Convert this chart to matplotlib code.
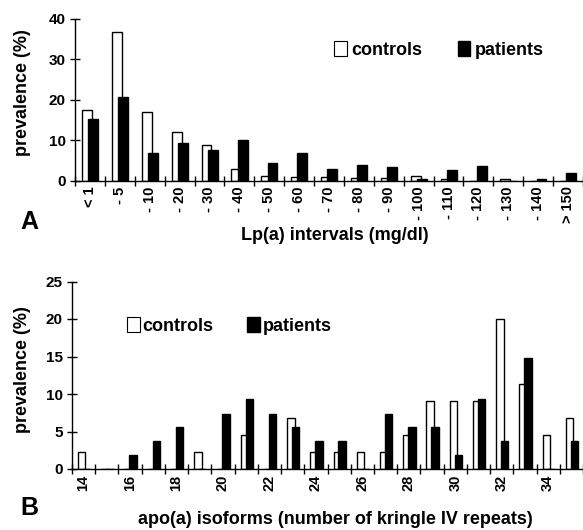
import matplotlib
matplotlib.use('Agg')
import matplotlib.pyplot as plt
import numpy as np
from matplotlib.patches import Patch

plt.rcParams['font.family'] = ['Liberation Sans', 'DejaVu Sans']
plt.rcParams['font.weight'] = 'bold'

# Panel A: Lp(a) intervals
lp_labels = ['< 1', '- 5', '- 10', '- 20', '- 30', '- 40', '- 50', '- 60', '- 70',
             '- 80', '- 90', '- 100', '- 110', '- 120', '- 130', '- 140', '> 150']
lp_controls = [17.6, 36.9, 16.9, 12.1, 8.9, 3.0, 1.2, 0.8, 1.0, 0.6, 0.6, 1.1, 0.5, 0, 0.5, 0, 0]
lp_patients = [15.3, 20.7, 6.8, 9.3, 7.7, 10.0, 4.5, 6.8, 2.8, 4.0, 3.3, 0.4, 2.7, 3.7, 0, 0.4, 1.8]

# Panel B: apo(a) isoforms
kiv = list(range(14, 36))
iso_controls = [2.3, 0, 0, 0, 0, 2.3, 0, 4.5, 0, 6.8, 2.3, 2.3, 2.3, 2.3, 4.5, 9.1, 9.1, 9.1,
                20.0, 11.4, 4.5, 6.8]
iso_patients = [0, 0, 1.9, 3.7, 5.6, 0, 7.4, 9.3, 7.4, 5.6, 3.7, 3.7, 0, 7.4, 5.6, 5.6, 1.9, 9.3,
                3.7, 14.8, 0, 3.7]

W, H = 583, 530
fig = plt.figure(figsize=(W / 100, H / 100), dpi=100, facecolor='white')

LABEL_FS = 13
TICK_FS = 11


def style_axes(ax, n):
    for s in ['top', 'right']:
        ax.spines[s].set_visible(False)
    ax.spines['left'].set_linewidth(1.0)
    ax.spines['bottom'].set_linewidth(1.0)
    ax.set_xticks(np.arange(n + 1))
    ax.set_xticklabels([])
    ax.tick_params(axis='x', which='major', direction='inout', length=7, width=1)
    ax.tick_params(axis='x', which='minor', length=0, labelsize=TICK_FS - 0.5, pad=4)
    ax.tick_params(axis='y', direction='inout', length=7, width=1, labelsize=TICK_FS, pad=3)
    for t in ax.get_yticklabels():
        t.set_fontweight('bold')


handles = [Patch(facecolor='white', edgecolor='black', linewidth=0.8),
           Patch(facecolor='black', edgecolor='black')]

# ---- Panel A ----
axA = fig.add_axes([75 / W, 1 - 180.7 / H, (W - 75) / W, (180.7 - 19) / H])
xa = np.arange(len(lp_labels))
axA.bar(xa + 0.40, lp_controls, width=0.33, facecolor='white', edgecolor='black', linewidth=1.0)
axA.bar(xa + 0.61, lp_patients, width=0.33, facecolor='black', edgecolor='black', linewidth=1.0)
axA.set_xlim(0, (W - 75) / 30.4)
axA.set_ylim(0, 40)
axA.set_yticks([0, 10, 20, 30, 40])
style_axes(axA, len(lp_labels))
axA.set_xticks(xa + 0.5, minor=True)
axA.set_xticklabels(lp_labels, minor=True, rotation=90, fontweight='bold', va='top')
fig.text(23 / W, 1 - 93 / H, 'prevalence (%)', rotation=90, ha='center', va='center',
         fontsize=LABEL_FS, fontweight='bold')
fig.text(335 / W, 1 - 236 / H, 'Lp(a) intervals (mg/dl)', ha='center', va='center',
         fontsize=LABEL_FS, fontweight='bold')
fig.text(20 / W, 1 - 222 / H, 'A', ha='left', va='center', fontsize=18, fontweight='bold')
fig.legend(handles, ['controls', 'patients'], loc='center left',
           bbox_to_anchor=(318 / W, 1 - 50 / H), ncol=2, frameon=False,
           handlelength=0.7, handleheight=0.85, handletextpad=0.25, columnspacing=1.95,
           prop={'size': LABEL_FS, 'weight': 'bold'})

# ---- Panel B ----
axB = fig.add_axes([72 / W, 1 - 469 / H, (W - 72) / W, (469 - 281.5) / H])
xb = np.arange(len(kiv))
axB.bar(xb + 0.42, iso_controls, width=0.32, facecolor='white', edgecolor='black', linewidth=1.0)
axB.bar(xb + 0.63, iso_patients, width=0.32, facecolor='black', edgecolor='black', linewidth=1.0)
axB.set_xlim(0, (W - 72) / 23.6)
axB.set_ylim(0, 25)
axB.set_yticks([0, 5, 10, 15, 20, 25])
style_axes(axB, len(kiv))
even = [i for i, k in enumerate(kiv) if k % 2 == 0]
axB.set_xticks(xb[even] + 0.5, minor=True)
axB.set_xticklabels([str(kiv[i]) for i in even], minor=True, rotation=90,
                    fontweight='bold', va='top')
fig.text(23 / W, 1 - 370 / H, 'prevalence (%)', rotation=90, ha='center', va='center',
         fontsize=LABEL_FS, fontweight='bold')
fig.text(335 / W, 1 - 519 / H, 'apo(a) isoforms (number of kringle IV repeats)',
         ha='center', va='center', fontsize=LABEL_FS, fontweight='bold')
fig.text(20 / W, 1 - 508 / H, 'B', ha='left', va='center', fontsize=18, fontweight='bold')
fig.legend(handles, ['controls', 'patients'], loc='center left',
           bbox_to_anchor=(111 / W, 1 - 326 / H), ncol=2, frameon=False,
           handlelength=0.7, handleheight=0.85, handletextpad=0.15, columnspacing=1.85,
           prop={'size': LABEL_FS, 'weight': 'bold'})

fig.savefig('out.png', dpi=100, facecolor='white')
plt.close()
